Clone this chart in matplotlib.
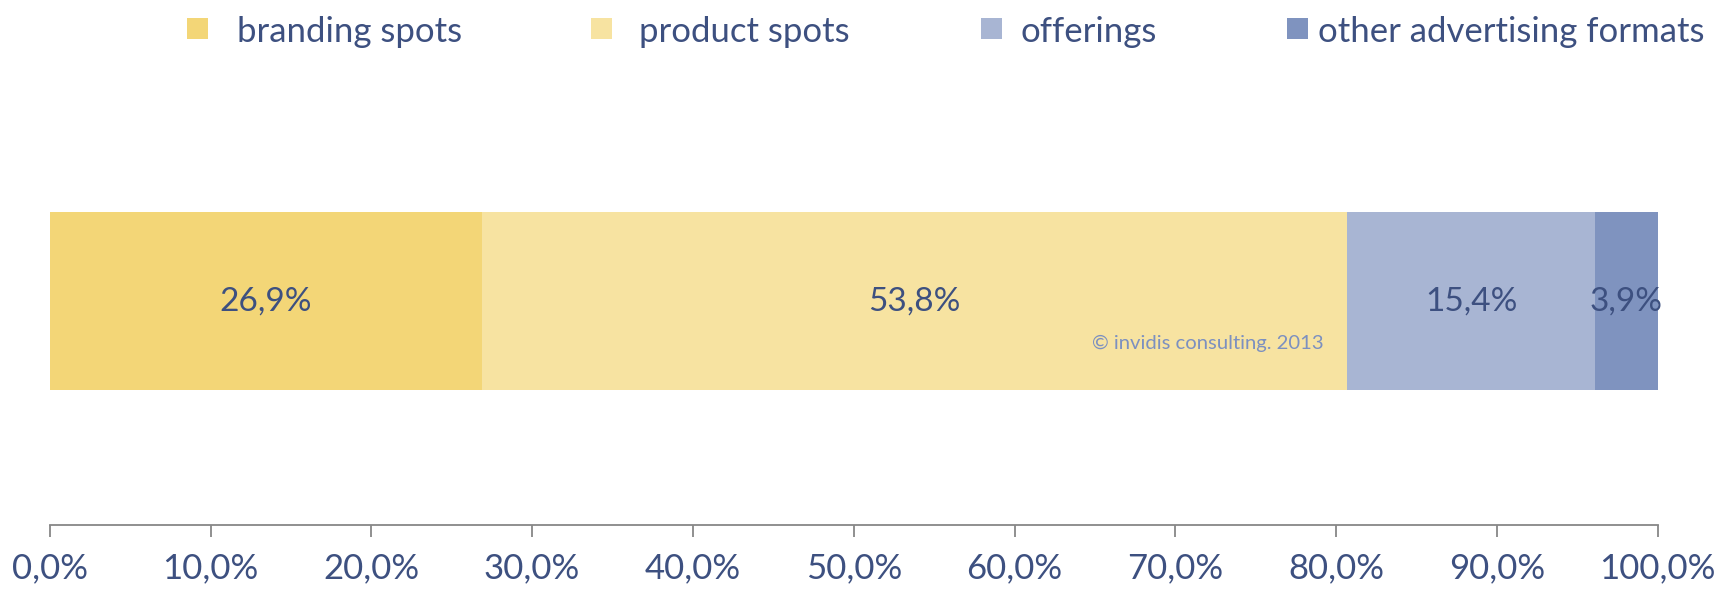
import matplotlib.pyplot as plt
from matplotlib.patches import Rectangle

# ---- data ----
categories = ["branding spots", "product spots", "offerings", "other advertising formats"]
shares = [26.9, 53.8, 15.4, 3.9]
share_labels = ["26,9%", "53,8%", "15,4%", "3,9%"]
colors = ["#F3D677", "#F7E3A1", "#A8B5D3", "#7F93BF"]
xticks = [0, 10, 20, 30, 40, 50, 60, 70, 80, 90, 100]
xtick_labels = ["0,0%", "10,0%", "20,0%", "30,0%", "40,0%", "50,0%",
                "60,0%", "70,0%", "80,0%", "90,0%", "100,0%"]

TEXT = "#3D5080"
GREY = "#878787"
FONT = "Lato"

W, H = 1719, 589
fig = plt.figure(figsize=(W / 100, H / 100), dpi=100)
ax = fig.add_axes([49.7 / W, (H - 525) / H, 1608 / W, 465 / H])

left = 0
for val, lab, col in zip(shares, share_labels, colors):
    bars = ax.barh(0, val, left=left, height=1.0, color=col, edgecolor="none")
    ax.bar_label(bars, labels=[lab], label_type="center", color=TEXT,
                 fontsize=24, family=FONT)
    left += val

ax.set_xlim(0, 100)
ax.set_ylim(-1.258, 1.354)
ax.set_xticks(xticks)
ax.set_xticklabels(xtick_labels, family=FONT, fontsize=25, color=TEXT)
ax.set_yticks([])
for s in ["left", "right", "top"]:
    ax.spines[s].set_visible(False)
ax.spines["bottom"].set_color(GREY)
ax.spines["bottom"].set_linewidth(1.3)
ax.tick_params(axis="x", direction="out", length=8.6, width=1.3,
               color=GREY, pad=11)

# watermark
ax.text(72.0, -0.236, "\u00a9 invidis consulting. 2013",
        ha="center", va="center", color="#7C90C0", fontsize=14.6, family=FONT)

# legend drawn along the top
marker_x = [187, 591, 981, 1287]
text_x = [237, 639, 1020, 1318]
for cat, col, mx, tx in zip(categories, colors, marker_x, text_x):
    fig.add_artist(Rectangle((mx / W, (H - 39) / H), 21 / W, 21 / H,
                             transform=fig.transFigure, color=col, lw=0))
    fig.text(tx / W, (H - 32) / H, cat, ha="left", va="center",
             color=TEXT, fontsize=25, family=FONT)

fig.savefig("out.png", dpi=100)
